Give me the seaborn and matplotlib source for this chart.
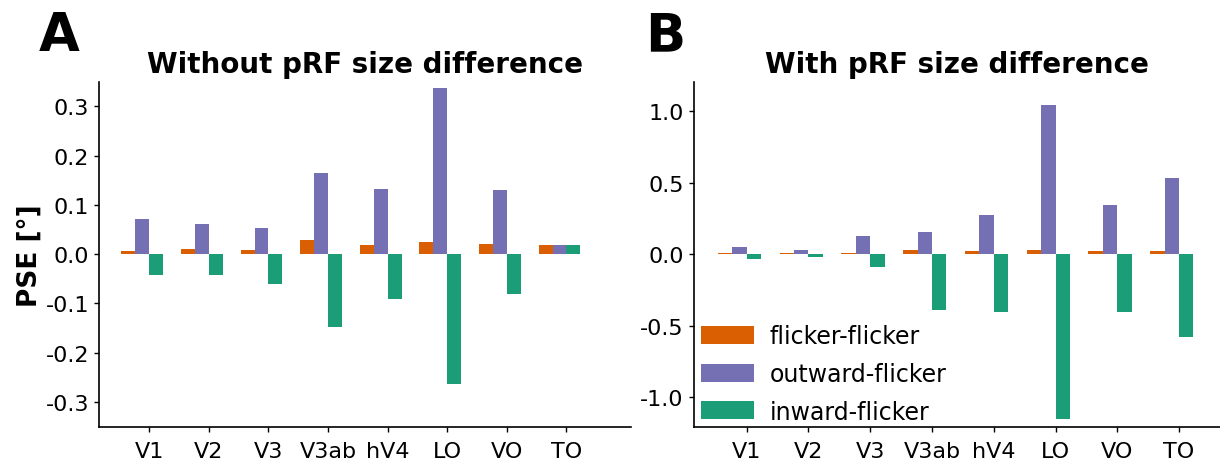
import numpy as np
import pandas as pd
import matplotlib
matplotlib.use("Agg")
import matplotlib.pyplot as plt
import seaborn as sns

# Visual areas and stimulus conditions
areas = ["V1", "V2", "V3", "V3ab", "hV4", "LO", "VO", "TO"]
conditions = ["flicker-flicker", "outward-flicker", "inward-flicker"]

# PSE [deg], model without pRF size difference
ff_without = [0.006, 0.010, 0.008, 0.028, 0.018, 0.024, 0.020, 0.018]
out_without = [0.071, 0.061, 0.053, 0.164, 0.132, 0.337, 0.130, 0.018]
in_without = [-0.043, -0.043, -0.061, -0.147, -0.091, -0.263, -0.081, 0.018]

# PSE [deg], model with pRF size difference
ff_with = [0.009, 0.009, 0.009, 0.028, 0.021, 0.028, 0.021, 0.021]
out_with = [0.049, 0.028, 0.126, 0.153, 0.272, 1.040, 0.342, 0.530]
in_with = [-0.035, -0.021, -0.091, -0.388, -0.402, -1.151, -0.402, -0.577]

yticks_without = [-0.3, -0.2, -0.1, 0.0, 0.1, 0.2, 0.3]
yticks_with = [-1.0, -0.5, 0.0, 0.5, 1.0]

dark2 = sns.color_palette("Dark2", 3)
colors = [dark2[1], dark2[2], dark2[0]]


def long_table(ff, out, inw):
    rows = []
    for cond, vals in zip(conditions, [ff, out, inw]):
        for a, v in zip(areas, vals):
            rows.append({"area": a, "condition": cond, "pse": v})
    return pd.DataFrame(rows)


sns.set_style("ticks")
plt.rcParams["font.family"] = ["DejaVu Sans"]
plt.rcParams["axes.unicode_minus"] = False
plt.rcParams["xtick.labelsize"] = 16
plt.rcParams["ytick.labelsize"] = 16
for key in ("axes.edgecolor", "xtick.color", "ytick.color", "text.color",
            "axes.labelcolor", "axes.titlecolor"):
    plt.rcParams[key] = "black"

W, H = 1220, 464
fig = plt.figure(figsize=(W / 100, H / 100), dpi=100)
ax_a = fig.add_axes([99.3 / W, (H - 427.7) / H, 531.4 / W, 345 / H])
ax_b = fig.add_axes([694 / W, (H - 427.7) / H, (W - 694) / W, 345 / H])

group_width = 0.7
bar_w = group_width / len(conditions)

panels = [
    (ax_a, long_table(ff_without, out_without, in_without), "Without pRF size difference",
     yticks_without, (-0.35, 0.35), (-0.722, 8.194), False),
    (ax_b, long_table(ff_with, out_with, in_with), "With pRF size difference",
     yticks_with, (-1.205, 1.205), (-0.737, 7.78), True),
]

for ax, df, title, yt, ylim, xlim, show_legend in panels:
    sns.barplot(data=df, x="area", y="pse", hue="condition", order=areas,
                hue_order=conditions, palette=colors, width=group_width,
                saturation=1, errorbar=None, linewidth=0, ax=ax,
                legend=show_legend)
    ax.set_xticks(np.arange(len(areas)) + bar_w / 2, labels=areas)
    ax.set_yticks(yt, labels=[f"{t:.1f}" for t in yt])
    ax.set_ylim(*ylim)
    ax.set_xlim(*xlim)
    ax.set_xlabel("")
    ax.set_ylabel("")
    ax.set_title(title, fontsize=20, fontweight="bold", pad=7)
    ax.tick_params(axis="both", length=3.5, width=1, pad=4)
    ax.tick_params(axis="x", pad=6.5)
    sns.despine(ax=ax)
    for sp in ("left", "bottom"):
        ax.spines[sp].set_linewidth(1.2)

ax_a.set_ylabel("PSE [°]", fontsize=19, fontweight="bold", labelpad=2)

sns.move_legend(ax_b, "lower left", bbox_to_anchor=(0.0133, 0.009), title=None,
                frameon=False, fontsize=17, handlelength=2.25, handleheight=0.8,
                handletextpad=0.65, labelspacing=0.58, borderaxespad=0,
                borderpad=0)

fig.text(39 / W, 1 - 51 / H, "A", fontsize=38, fontweight="bold", ha="left", va="baseline")
fig.text(645 / W, 1 - 51 / H, "B", fontsize=38, fontweight="bold", ha="left", va="baseline")

fig.savefig("out.png", dpi=100)
